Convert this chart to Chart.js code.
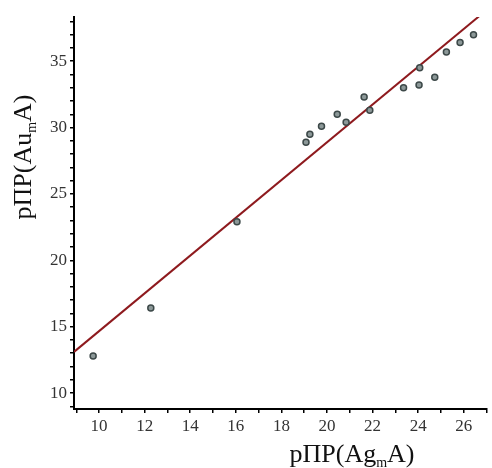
<!DOCTYPE html>
<html>
<head>
<meta charset="utf-8">
<script src="https://cdn.jsdelivr.net/npm/chart.js@4/dist/chart.umd.min.js"></script>
<style>
html,body{margin:0;padding:0;background:#fff;}
#wrap{position:relative;width:492px;height:468px;}
</style>
</head>
<body>
<div id="wrap"><canvas id="c" width="492" height="468"></canvas></div>
<script>
// Data
const xValues = [9.74, 12.27, 16.05, 19.08, 19.25, 19.76, 20.45, 20.84, 21.63, 21.88, 23.36, 24.04, 24.07, 24.73, 25.24, 25.84, 26.43];
const yValues = [12.8, 16.4, 22.9, 28.9, 29.5, 30.1, 31.0, 30.4, 32.3, 31.3, 33.0, 33.2, 34.5, 33.8, 35.7, 36.4, 37.0];
const fitLineX = [8.9, 26.72];
const fitLineY = [13.1, 38.45];
const xTicks = [9, 10, 11, 12, 13, 14, 15, 16, 17, 18, 19, 20, 21, 22, 23, 24, 25, 26, 27];
const xTickLabels = [10, 12, 14, 16, 18, 20, 22, 24, 26];
const yTicks = [9, 10, 11, 12, 13, 14, 15, 16, 17, 18, 19, 20, 21, 22, 23, 24, 25, 26, 27, 28, 29, 30, 31, 32, 33, 34, 35, 36, 37, 38];
const yTickLabels = [10, 15, 20, 25, 30, 35];
const xTitle = ['pΠP(Ag', 'm', 'A)'];
const yTitle = ['pΠP(Au', 'm', 'A)'];

const scatterPts = xValues.map((x, i) => ({x: x, y: yValues[i]}));
const linePts = fitLineX.map((x, i) => ({x: x, y: fitLineY[i]}));

const serif = '"Liberation Serif", "Times New Roman", serif';

function drawSubTitle(ctx, parts, size) {
  ctx.font = size + 'px ' + serif;
  const w0 = ctx.measureText(parts[0]).width;
  const w2 = ctx.measureText(parts[2]).width;
  const subSize = Math.round(size * 0.55);
  ctx.font = subSize + 'px ' + serif;
  const w1 = ctx.measureText(parts[1]).width;
  const total = w0 + w1 + w2;
  let x = -total / 2;
  ctx.textBaseline = 'alphabetic';
  ctx.textAlign = 'left';
  ctx.font = size + 'px ' + serif;
  ctx.fillText(parts[0], x, 0);
  x += w0;
  ctx.font = subSize + 'px ' + serif;
  ctx.fillText(parts[1], x, 5);
  x += w1;
  ctx.font = size + 'px ' + serif;
  ctx.fillText(parts[2], x, 0);
}

const titlePlugin = {
  id: 'subTitles',
  afterDraw(chart) {
    const ctx = chart.ctx;
    ctx.save();
    ctx.fillStyle = '#111';
    // x title
    ctx.save();
    ctx.translate(352, 462);
    drawSubTitle(ctx, xTitle, 26);
    ctx.restore();
    // y title
    ctx.save();
    ctx.translate(31, 157);
    ctx.rotate(-Math.PI / 2);
    drawSubTitle(ctx, yTitle, 26);
    ctx.restore();
    ctx.restore();
  }
};

new Chart(document.getElementById('c'), {
  type: 'scatter',
  data: {
    datasets: [
      {
        type: 'line',
        data: linePts,
        borderColor: '#8e1a1e',
        borderWidth: 2,
        pointRadius: 0,
        fill: false,
        order: 2
      },
      {
        data: scatterPts,
        pointStyle: 'circle',
        pointRadius: 3,
        pointBackgroundColor: '#8c9898',
        pointBorderColor: '#3c4848',
        pointBorderWidth: 1.5,
        order: 1
      }
    ]
  },
  plugins: [titlePlugin],
  options: {
    responsive: false,
    animation: false,
    devicePixelRatio: 1,
    layout: {padding: {top: 17, right: 0, bottom: 0, left: 0}},
    plugins: {legend: {display: false}, tooltip: {enabled: false}, title: {display: false}},
    scales: {
      x: {
        type: 'linear',
        min: 8.9,
        max: 27,
        afterBuildTicks: (s) => { s.ticks = xTicks.map(v => ({value: v})); },
        afterFit: (s) => { s.height = 59; },
        border: {display: true, color: '#000', width: 2},
        grid: {display: true, drawOnChartArea: false, drawTicks: true, tickLength: 4, color: '#000', lineWidth: 1.5},
        ticks: {
          autoSkip: false,
          maxRotation: 0,
          padding: 3,
          color: '#333',
          font: {family: serif, size: 17},
          callback: (v) => xTickLabels.includes(v) ? String(v) : ''
        }
      },
      y: {
        type: 'linear',
        min: 8.8,
        max: 38.33,
        afterBuildTicks: (s) => { s.ticks = yTicks.map(v => ({value: v})); },
        afterFit: (s) => { s.width = 74; },
        border: {display: true, color: '#000', width: 2},
        grid: {display: true, drawOnChartArea: false, drawTicks: true, tickLength: 4, color: '#000', lineWidth: 1.5},
        ticks: {
          autoSkip: false,
          padding: 3,
          color: '#333',
          font: {family: serif, size: 17},
          callback: (v) => yTickLabels.includes(v) ? String(v) : ''
        }
      }
    }
  }
});
</script>
</body>
</html>
